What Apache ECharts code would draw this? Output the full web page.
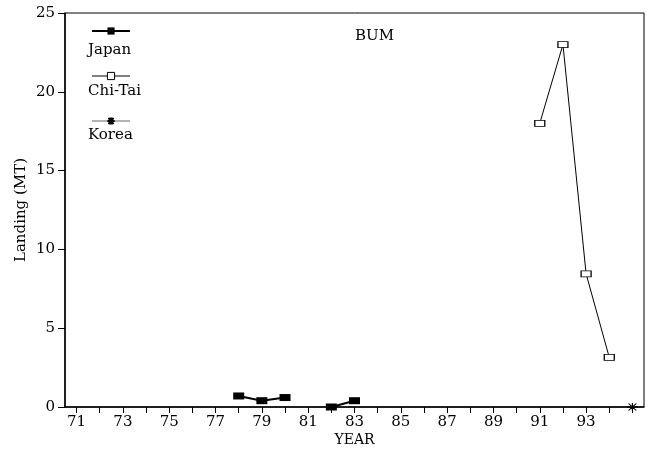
<!DOCTYPE html>
<html>
<head>
<meta charset="utf-8">
<script src="https://cdn.jsdelivr.net/npm/echarts@6/dist/echarts.min.js"></script>
<style>
  html, body { margin: 0; padding: 0; background: #fff; }
  #container { width: 652px; height: 452px; }
</style>
</head>
<body>
<div id="container"></div>
<script>
// 年份（类目轴，71 ~ 95）
const years = ['71', '72', '73', '74', '75', '76', '77', '78', '79', '80', '81', '82', '83',
  '84', '85', '86', '87', '88', '89', '90', '91', '92', '93', '94', '95']

// 各国渔获量 (MT)
const japan = [null, null, null, null, null, null, null, 0.7, 0.4, 0.6, null, 0.0, 0.4,
  null, null, null, null, null, null, null, null, null, null, null, null]
const chiTai = [null, null, null, null, null, null, null, null, null, null, null, null, null,
  null, null, null, null, null, null, null, 18, 23, 8.45, 3.15, null]
const korea = [null, null, null, null, null, null, null, null, null, null, null, null, null,
  null, null, null, null, null, null, null, null, null, null, null, 0]

const yTicks = [0, 5, 10, 15, 20, 25]

const font = 'DejaVu Serif'
const star = 'path://M0,5L10,5M5,1L5,9M1.5,1.5L8.5,8.5M1.5,8.5L8.5,1.5'

let myChart = echarts.init(document.getElementById('container'))

let option = {
  animation: false,
  backgroundColor: '#fff',
  textStyle: { fontFamily: font },
  title: {
    text: 'BUM',
    left: 350,
    top: 24,
    textStyle: { fontFamily: font, fontSize: 15, fontWeight: 'normal', color: '#000' }
  },
  legend: {
    orient: 'vertical',
    left: 86,
    top: 20,
    itemWidth: 38,
    itemHeight: 9,
    itemGap: 33,
    formatter: () => ' ',
    data: [
      { name: 'Japan', lineStyle: { width: 2 } },
      { name: 'Chi-Tai', lineStyle: { width: 1 }, itemStyle: { borderWidth: 1 } },
      { name: 'Korea', lineStyle: { width: 1, color: '#666' } }
    ]
  },
  // 图例文字放在图标下方
  graphic: [
    { type: 'text', left: 88, top: 43, style: { text: 'Japan', font: '15px "DejaVu Serif"', fill: '#000' } },
    { type: 'text', left: 88, top: 84, style: { text: 'Chi-Tai', font: '15px "DejaVu Serif"', fill: '#000' } },
    { type: 'text', left: 88, top: 128, style: { text: 'Korea', font: '15px "DejaVu Serif"', fill: '#000' } }
  ],
  grid: {
    left: 65,
    right: 8,
    top: 13,
    bottom: 45,
    show: true,
    borderColor: '#000',
    borderWidth: 1
  },
  xAxis: {
    type: 'category',
    data: years,
    boundaryGap: true,
    name: 'YEAR',
    nameLocation: 'middle',
    nameGap: 26,
    nameMoveOverlap: false,
    nameTextStyle: { fontFamily: font, fontSize: 14, color: '#000' },
    axisLine: { show: true, lineStyle: { color: '#000', width: 1.5 } },
    axisTick: { show: true, inside: false, alignWithLabel: true, interval: 0, length: 6, lineStyle: { color: '#000', width: 1 } },
    axisLabel: {
      interval: 1,
      margin: 8,
      color: '#000',
      fontFamily: font,
      fontSize: 15,
      formatter: v => (v === '95' ? '' : v)
    },
    splitLine: { show: false }
  },
  yAxis: {
    type: 'value',
    min: yTicks[0],
    max: yTicks[yTicks.length - 1],
    interval: 5,
    name: 'Landing (MT)',
    nameLocation: 'middle',
    nameGap: 36,
    nameMoveOverlap: false,
    nameTextStyle: { fontFamily: font, fontSize: 15, color: '#000' },
    axisLine: { show: true, lineStyle: { color: '#000', width: 1.5 } },
    axisTick: { show: true, inside: false, length: 7, lineStyle: { color: '#000', width: 1 } },
    axisLabel: { color: '#000', fontFamily: font, fontSize: 15, margin: 10 },
    splitLine: { show: false }
  },
  series: [
    {
      name: 'Japan',
      type: 'line',
      data: japan,
      connectNulls: false,
      symbol: 'rect',
      symbolSize: [11, 7],
      lineStyle: { color: '#000', width: 2 },
      itemStyle: { color: '#000' }
    },
    {
      name: 'Chi-Tai',
      type: 'line',
      data: chiTai,
      symbol: 'rect',
      symbolSize: [10, 6],
      lineStyle: { color: '#000', width: 1 },
      itemStyle: { color: '#fff', borderColor: '#000', borderWidth: 1 }
    },
    {
      name: 'Korea',
      type: 'line',
      data: korea,
      symbol: star,
      symbolSize: [11, 8],
      lineStyle: { color: '#666', width: 1 },
      itemStyle: { color: '#000', borderColor: '#000', borderWidth: 1 }
    }
  ]
}

myChart.setOption(option)
</script>
</body>
</html>
